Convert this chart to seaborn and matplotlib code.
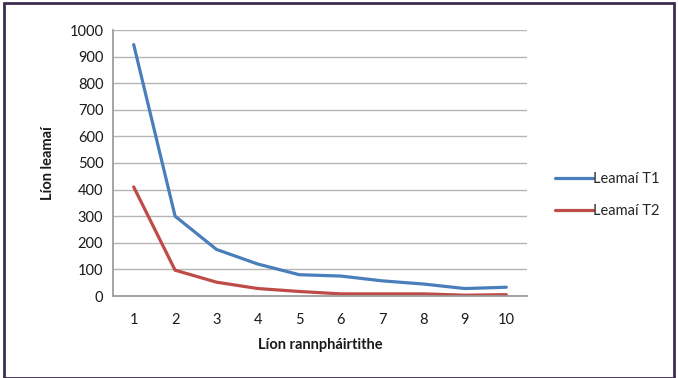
import matplotlib
matplotlib.use("Agg")
import matplotlib.pyplot as plt
import seaborn as sns
import pandas as pd
from matplotlib.patches import Rectangle

participants = [1, 2, 3, 4, 5, 6, 7, 8, 9, 10]
leamai_t1 = [945, 300, 175, 120, 80, 75, 57, 45, 28, 33]
leamai_t2 = [410, 97, 52, 28, 17, 8, 8, 8, 3, 5]
series_names = ["Leamaí T1", "Leamaí T2"]
y_ticks = [0, 100, 200, 300, 400, 500, 600, 700, 800, 900, 1000]

df = pd.DataFrame({
    "x": participants * 2,
    "y": leamai_t1 + leamai_t2,
    "series": [series_names[0]] * len(participants) + [series_names[1]] * len(participants),
})

sns.set_theme(style="white")
plt.rcParams["font.family"] = ["Lato", "DejaVu Sans"]

fig = plt.figure(figsize=(6.78, 3.78), dpi=100)
ax = fig.add_axes([113 / 678, 1 - 296 / 378, (527 - 113) / 678, (296 - 30) / 378])

sns.lineplot(data=df, x="x", y="y", hue="series",
             palette={series_names[0]: "#4a7ebb", series_names[1]: "#be4b48"},
             linewidth=2.3, ax=ax, legend=True)

ax.set_xlim(0.5, 10.5)
ax.set_ylim(0, 1000)
ax.set_xticks(participants)
ax.set_yticks(y_ticks)
ax.set_xticklabels([str(p) for p in participants], fontsize=10.5, color="#1a1a1a")
ax.set_yticklabels([str(v) for v in y_ticks], fontsize=10.5, color="#1a1a1a")
ax.yaxis.grid(True, color="#b5b5b5", linewidth=1.0)
ax.set_axisbelow(True)
for s in ["top", "right"]:
    ax.spines[s].set_visible(False)
ax.spines["left"].set_color("#9a9a9a")
ax.spines["bottom"].set_color("#9a9a9a")
ax.tick_params(axis="y", length=4, color="#9a9a9a", direction="out", pad=3)
ax.tick_params(axis="x", length=0, pad=12)

ax.set_xlabel("Líon rannpháirtithe", fontsize=10.5, fontweight="bold", color="#1a1a1a", labelpad=8)
ax.set_ylabel("Líon leamaí", fontsize=10.5, fontweight="bold", color="#1a1a1a", labelpad=10)

leg = ax.legend(loc="center left", bbox_to_anchor=(1.035, 0.38), frameon=False,
                fontsize=10.5, handlelength=2.6, handletextpad=0.0, labelspacing=1.2)

fig.patches.append(Rectangle((4 / 678, 0), 670 / 678, 1 - 3 / 378, transform=fig.transFigure,
                             fill=False, edgecolor="#3b2d4f", linewidth=2.0))

fig.savefig("out.png", dpi=100)
